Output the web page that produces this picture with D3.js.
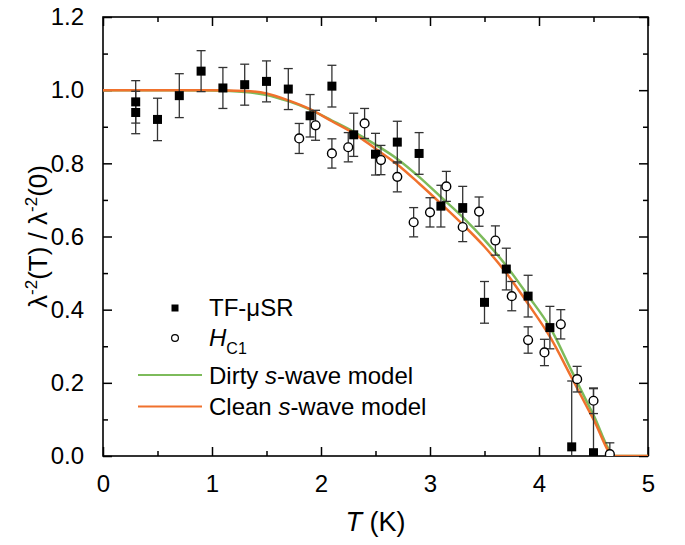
<!DOCTYPE html>
<html>
<head>
<meta charset="utf-8">
<script src="https://cdn.jsdelivr.net/npm/d3@7"></script>
<style>
  body { margin: 0; background: #fff; }
  svg text { font-family: "Liberation Sans", Arial, sans-serif; fill: #000; }
</style>
</head>
<body>
<div class="canvas"></div>
<script>
// TF-muSR data (filled squares)
const muT   = [0.3, 0.3, 0.5, 0.7, 0.9, 1.1, 1.3, 1.5, 1.7, 1.9, 2.1, 2.3, 2.5, 2.7, 2.9, 3.1, 3.3, 3.5, 3.7, 3.9, 4.1, 4.3, 4.5]
const muVal = [0.968, 0.939, 0.92, 0.985, 1.052, 1.006, 1.015, 1.024, 1.003, 0.93, 1.011, 0.878, 0.825, 0.858, 0.827, 0.683, 0.679, 0.42, 0.511, 0.437, 0.351, 0.025, 0.009]
const muErr = [0.058, 0.058, 0.058, 0.06, 0.056, 0.056, 0.056, 0.056, 0.056, 0.058, 0.057, 0.059, 0.057, 0.057, 0.057, 0.057, 0.058, 0.057, 0.057, 0.057, 0.058, 0.18, 0.175]

// Hc1 data (open circles)
const hcT   = [1.8, 1.95, 2.1, 2.25, 2.4, 2.55, 2.7, 2.85, 3.0, 3.15, 3.3, 3.45, 3.6, 3.75, 3.9, 4.05, 4.2, 4.35, 4.5, 4.65]
const hcVal = [0.868, 0.904, 0.827, 0.844, 0.909, 0.809, 0.763, 0.639, 0.666, 0.737, 0.626, 0.668, 0.589, 0.437, 0.317, 0.283, 0.36, 0.21, 0.151, 0.005]
const hcErr = [0.041, 0.041, 0.04, 0.04, 0.041, 0.04, 0.041, 0.04, 0.04, 0.041, 0.04, 0.04, 0.04, 0.04, 0.036, 0.036, 0.04, 0.035, 0.035, 0.031]

// model curves
const dirtyT = [0, 0.5, 1.0, 1.3, 1.5, 1.7, 1.9, 2.1, 2.3, 2.5, 2.7, 2.9, 3.1, 3.3, 3.5, 3.7, 3.9, 4.1, 4.3, 4.5, 4.7, 5.0]
const dirty  = [1.0, 1.0, 0.999, 0.995, 0.987, 0.97, 0.947, 0.917, 0.886, 0.851, 0.812, 0.763, 0.708, 0.653, 0.591, 0.52, 0.438, 0.352, 0.232, 0.112, 0, 0]
const cleanT = [0, 0.5, 1.0, 1.3, 1.5, 1.7, 1.9, 2.1, 2.3, 2.5, 2.7, 2.9, 3.1, 3.3, 3.5, 3.7, 3.9, 4.1, 4.3, 4.5, 4.69, 5.0]
const clean  = [1.0, 1.0, 1.0, 0.998, 0.991, 0.972, 0.948, 0.915, 0.882, 0.84, 0.797, 0.745, 0.69, 0.633, 0.572, 0.5, 0.416, 0.326, 0.214, 0.1, 0, 0]

const xTicks = [0, 1, 2, 3, 4, 5]
const yTicks = [0, 0.2, 0.4, 0.6, 0.8, 1.0, 1.2]

const green = '#7dbb5b'
const orange = '#f0712c'

const svg = d3.select('.canvas')
    .append('svg')
    .attr('width', 685)
    .attr('height', 545)

const margin = { top: 17, right: 37, bottom: 89, left: 103 }
const graphWidth = 685 - margin.left - margin.right
const graphHeight = 545 - margin.top - margin.bottom

const graph = svg.append('g')
    .attr('transform', `translate(${margin.left}, ${margin.top})`)

// scales
const x = d3.scaleLinear().domain([0, 5]).range([0, graphWidth])
const y = d3.scaleLinear().domain([0, 1.2]).range([graphHeight, 0])

graph.append('clipPath').attr('id', 'clip')
    .append('rect')
    .attr('y', -2)
    .attr('width', graphWidth)
    .attr('height', graphHeight + 2)

// axes, ticks pointing inward, minor ticks between
const minorX = d3.range(0.5, 5, 1)
const minorY = d3.range(0.1, 1.2, 0.2)

const drawAxis = (axis, group) => {
    group.call(axis)
    group.select('.domain').remove()
    group.selectAll('line').attr('stroke', '#000').attr('stroke-width', 1.5)
}

const xAxisB = graph.append('g').attr('transform', `translate(0, ${graphHeight})`)
drawAxis(d3.axisBottom(x).tickValues(xTicks).tickSize(-9).tickPadding(19).tickFormat(d3.format('d')), xAxisB)
const xAxisBm = graph.append('g').attr('transform', `translate(0, ${graphHeight})`)
drawAxis(d3.axisBottom(x).tickValues(minorX).tickSize(-5).tickFormat(''), xAxisBm)
const xAxisT = graph.append('g')
drawAxis(d3.axisTop(x).tickValues(xTicks).tickSize(-9).tickFormat(''), xAxisT)
const xAxisTm = graph.append('g')
drawAxis(d3.axisTop(x).tickValues(minorX).tickSize(-5).tickFormat(''), xAxisTm)

const yAxisL = graph.append('g')
drawAxis(d3.axisLeft(y).tickValues(yTicks).tickSize(-9).tickPadding(19).tickFormat(d3.format('.1f')), yAxisL)
const yAxisLm = graph.append('g')
drawAxis(d3.axisLeft(y).tickValues(minorY).tickSize(-5).tickFormat(''), yAxisLm)
const yAxisR = graph.append('g').attr('transform', `translate(${graphWidth}, 0)`)
drawAxis(d3.axisRight(y).tickValues(yTicks).tickSize(-9).tickFormat(''), yAxisR)
const yAxisRm = graph.append('g').attr('transform', `translate(${graphWidth}, 0)`)
drawAxis(d3.axisRight(y).tickValues(minorY).tickSize(-5).tickFormat(''), yAxisRm)

graph.selectAll('.tick text')
    .attr('font-size', 24)
    .attr('font-family', '"Liberation Sans", Arial, sans-serif')
    .attr('fill', '#000')

// frame
graph.append('rect')
    .attr('width', graphWidth)
    .attr('height', graphHeight)
    .attr('fill', 'none')
    .attr('stroke', '#000')
    .attr('stroke-width', 1.6)

const plot = graph.append('g').attr('clip-path', 'url(#clip)')

// model curves
const line = d3.line().x(d => x(d[0])).y(d => y(d[1])).curve(d3.curveMonotoneX)
plot.append('path')
    .attr('d', line(d3.zip(dirtyT, dirty)))
    .attr('fill', 'none').attr('stroke', green).attr('stroke-width', 2.5)
plot.append('path')
    .attr('d', line(d3.zip(cleanT, clean)))
    .attr('fill', 'none').attr('stroke', orange).attr('stroke-width', 2.5)

// error bars
const errBars = (ts, vs, es) => {
    const g = plot.append('g').attr('stroke', '#333').attr('stroke-width', 1.3)
    ts.forEach((t, i) => {
        const cx = x(t)
        const top = y(vs[i] + es[i])
        const bot = y(vs[i] - es[i])
        g.append('line').attr('x1', cx).attr('x2', cx).attr('y1', top).attr('y2', bot)
        g.append('line').attr('x1', cx - 4.5).attr('x2', cx + 4.5).attr('y1', top).attr('y2', top)
        g.append('line').attr('x1', cx - 4.5).attr('x2', cx + 4.5).attr('y1', bot).attr('y2', bot)
    })
}
errBars(muT, muVal, muErr)
errBars(hcT, hcVal, hcErr)

// squares
plot.selectAll('rect.mu')
    .data(d3.zip(muT, muVal))
    .enter()
    .append('rect')
    .attr('class', 'mu')
    .attr('x', d => x(d[0]) - 4.5)
    .attr('y', d => y(d[1]) - 4.5)
    .attr('width', 9)
    .attr('height', 9)
    .attr('fill', '#000')

// circles
plot.selectAll('circle.hc')
    .data(d3.zip(hcT, hcVal))
    .enter()
    .append('circle')
    .attr('class', 'hc')
    .attr('cx', d => x(d[0]))
    .attr('cy', d => y(d[1]))
    .attr('r', 4.4)
    .attr('fill', '#fff')
    .attr('stroke', '#000')
    .attr('stroke-width', 1.4)

// legend
const legend = svg.append('g')
legend.append('rect').attr('x', 171.5).attr('y', 304.5).attr('width', 7).attr('height', 7).attr('fill', '#000')
legend.append('text').attr('x', 209).attr('y', 316).attr('font-size', 24).text('TF-\u03bcSR')
legend.append('circle').attr('cx', 175).attr('cy', 338).attr('r', 3.4)
    .attr('fill', '#fff').attr('stroke', '#000').attr('stroke-width', 1.2)
const hc = legend.append('text').attr('x', 209).attr('y', 346).attr('font-size', 24)
hc.append('tspan').attr('font-style', 'italic').text('H')
hc.append('tspan').attr('font-size', 16).attr('dy', 8).text('C1')
legend.append('line').attr('x1', 138).attr('x2', 202).attr('y1', 375).attr('y2', 375)
    .attr('stroke', green).attr('stroke-width', 2)
const dt = legend.append('text').attr('x', 209).attr('y', 384).attr('font-size', 24)
dt.append('tspan').text('Dirty ')
dt.append('tspan').attr('font-style', 'italic').text('s')
dt.append('tspan').text('-wave model')
legend.append('line').attr('x1', 138).attr('x2', 202).attr('y1', 406.5).attr('y2', 406.5)
    .attr('stroke', orange).attr('stroke-width', 2)
const ct = legend.append('text').attr('x', 209).attr('y', 415).attr('font-size', 24)
ct.append('tspan').text('Clean ')
ct.append('tspan').attr('font-style', 'italic').text('s')
ct.append('tspan').text('-wave model')

// axis titles
const xt = svg.append('text')
    .attr('x', margin.left + graphWidth / 2)
    .attr('y', 531)
    .attr('text-anchor', 'middle')
    .attr('font-size', 27)
xt.append('tspan').attr('font-style', 'italic').text('T')
xt.append('tspan').text(' (K)')

const yt = svg.append('text')
    .attr('transform', `translate(47, ${margin.top + graphHeight / 2}) rotate(-90)`)
    .attr('text-anchor', 'middle')
    .attr('font-size', 26)
yt.append('tspan').text('\u03bb')
yt.append('tspan').attr('font-size', 17).attr('dy', -10).text('-2')
yt.append('tspan').attr('dy', 10).text('(T) / \u03bb')
yt.append('tspan').attr('font-size', 17).attr('dy', -10).text('-2')
yt.append('tspan').attr('dy', 10).text('(0)')
</script>
</body>
</html>
